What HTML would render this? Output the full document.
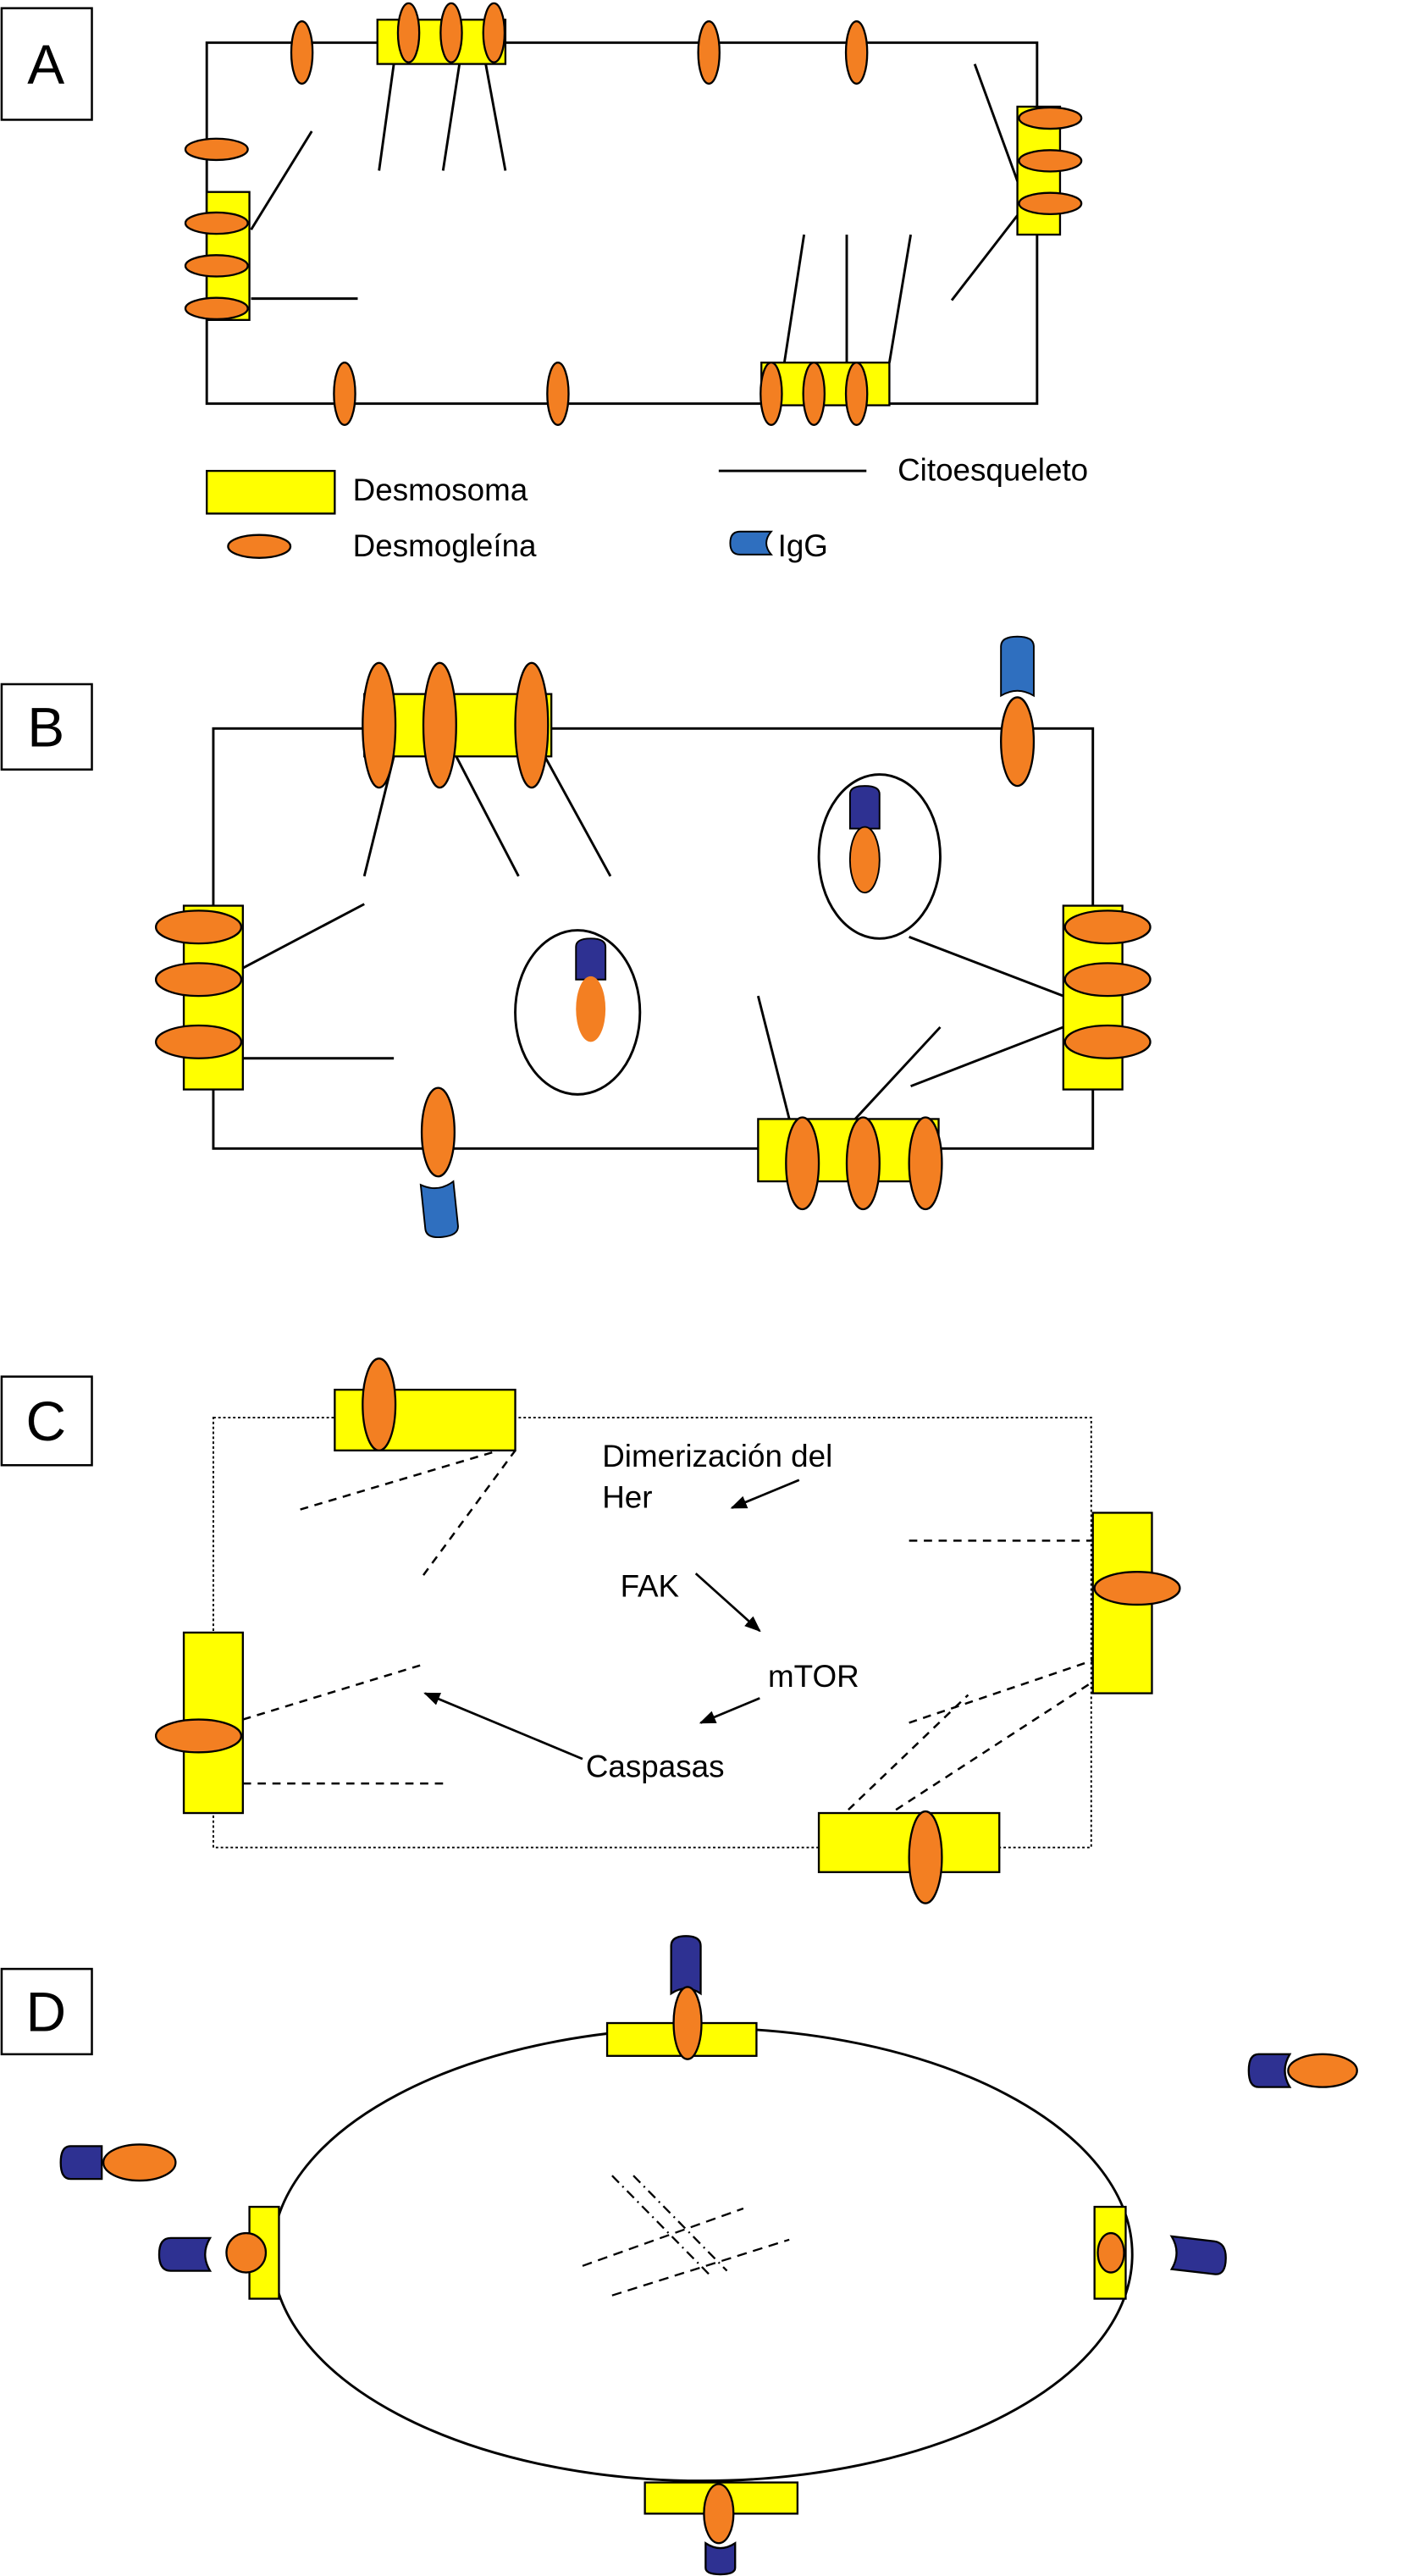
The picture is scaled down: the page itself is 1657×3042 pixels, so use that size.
<!DOCTYPE html>
<html><head><meta charset="utf-8"><style>
html,body{margin:0;padding:0;background:#fff;}
svg{display:block;}
text{font-family:"Liberation Sans",Arial,sans-serif;fill:#000;}
</style></head><body>
<svg width="1657" height="3042" viewBox="0 0 855 1570" preserveAspectRatio="none" xmlns="http://www.w3.org/2000/svg">
<g stroke="#000" stroke-width="1.3" fill="none">
<rect x="1" y="5" width="55" height="68" fill="#fff"/>
<rect x="1" y="417" width="55" height="52" fill="#fff"/>
<rect x="1" y="839" width="55" height="54" fill="#fff"/>
<rect x="1" y="1200" width="55" height="52" fill="#fff"/>
</g>
<g font-size="34" text-anchor="middle">
<text x="28" y="51">A</text><text x="28" y="455">B</text><text x="28" y="878">C</text><text x="28" y="1238">D</text>
</g>

<!-- PANEL A -->
<g stroke="#000" stroke-width="1.5" fill="none">
<rect x="126" y="26" width="506" height="220"/>
<line x1="190" y1="80" x2="153" y2="140"/><line x1="153" y1="182" x2="218" y2="182"/>
<line x1="240" y1="39" x2="231" y2="104"/><line x1="280" y1="39" x2="270" y2="104"/><line x1="296" y1="39" x2="308" y2="104"/>
<line x1="594" y1="39" x2="621" y2="113"/><line x1="621" y1="130" x2="580" y2="183"/>
<line x1="490" y1="143" x2="478" y2="221"/><line x1="516" y1="143" x2="516" y2="221"/><line x1="555" y1="143" x2="542" y2="221"/>
<line x1="438" y1="287" x2="528" y2="287"/>
</g>
<g stroke="#000" stroke-width="1.2" fill="#ffff00">
<rect x="230" y="12" width="78" height="27"/>
<rect x="126" y="117" width="26" height="78"/>
<rect x="620" y="65" width="26" height="78"/>
<rect x="464" y="221" width="78" height="26"/>
<rect x="126" y="287" width="78" height="26"/>
</g>
<g stroke="#000" stroke-width="1.2" fill="#f37f22">
<ellipse cx="249" cy="20" rx="6.5" ry="18"/><ellipse cx="275" cy="20" rx="6.5" ry="18"/><ellipse cx="301" cy="20" rx="6.5" ry="18"/>
<ellipse cx="184" cy="32" rx="6.5" ry="19"/><ellipse cx="432" cy="32" rx="6.5" ry="19"/><ellipse cx="522" cy="32" rx="6.5" ry="19"/>
<ellipse cx="132" cy="91" rx="19" ry="6.5"/>
<ellipse cx="132" cy="136" rx="19" ry="6.5"/><ellipse cx="132" cy="162" rx="19" ry="6.5"/><ellipse cx="132" cy="188" rx="19" ry="6.5"/>
<ellipse cx="640" cy="72" rx="19" ry="6.5"/><ellipse cx="640" cy="98" rx="19" ry="6.5"/><ellipse cx="640" cy="124" rx="19" ry="6.5"/>
<ellipse cx="470" cy="240" rx="6.5" ry="19"/><ellipse cx="496" cy="240" rx="6.5" ry="19"/><ellipse cx="522" cy="240" rx="6.5" ry="19"/>
<ellipse cx="210" cy="240" rx="6.5" ry="19"/><ellipse cx="340" cy="240" rx="6.5" ry="19"/>
<ellipse cx="158" cy="333" rx="19" ry="7"/>
</g>
<path d="M470 324 H451 Q445 324 445 331 Q445 338 451 338 H470 Q464 331 470 324 Z" fill="#2f6fbf" stroke="#000" stroke-width="1"/>
<g font-size="19">
<text x="215" y="305">Desmosoma</text><text x="215" y="339">Desmogleína</text>
<text x="547" y="293">Citoesqueleto</text><text x="474" y="339">IgG</text>
</g>

<!-- PANEL B -->
<g stroke="#000" stroke-width="1.5" fill="none">
<rect x="130" y="444" width="536" height="256"/>
<line x1="240" y1="461" x2="222" y2="534"/><line x1="278" y1="461" x2="316" y2="534"/><line x1="332" y1="461" x2="372" y2="534"/>
<line x1="148" y1="590" x2="222" y2="551"/><line x1="148" y1="645" x2="240" y2="645"/>
<line x1="554" y1="571" x2="648" y2="607"/><line x1="555" y1="662" x2="648" y2="626"/>
<line x1="498" y1="707" x2="573" y2="626"/><line x1="462" y1="607" x2="481" y2="682"/>
<ellipse cx="352" cy="617" rx="38" ry="50" fill="#fff"/>
<ellipse cx="536" cy="522" rx="37" ry="50" fill="#fff"/>
</g>
<g stroke="#000" stroke-width="1.2" fill="#ffff00">
<rect x="222" y="423" width="114" height="38"/>
<rect x="112" y="552" width="36" height="112"/>
<rect x="648" y="552" width="36" height="112"/>
<rect x="462" y="682" width="110" height="38"/>
</g>
<path d="M610 424 V394 Q610 388 620 388 Q630 388 630 394 V424 Q620 418 610 424 Z" fill="#2f6fbf" stroke="#000" stroke-width="1"/>
<path d="M258 721 Q268 727 278 721 V748 Q278 754 268 754 Q258 754 258 748 Z" fill="#2f6fbf" stroke="#000" stroke-width="1" transform="rotate(-6 268 737)"/>
<path d="M351 597 V577 Q351 572 360 572 Q369 572 369 577 V597 Z" fill="#2e3192" stroke="#000" stroke-width="1"/>
<path d="M518 505 V484 Q518 479 527 479 Q536 479 536 484 V505 Z" fill="#2e3192" stroke="#000" stroke-width="1"/>
<g stroke="#000" stroke-width="1.2" fill="#f37f22">
<ellipse cx="231" cy="442" rx="10" ry="38"/><ellipse cx="268" cy="442" rx="10" ry="38"/><ellipse cx="324" cy="442" rx="10" ry="38"/>
<ellipse cx="121" cy="565" rx="26" ry="10"/><ellipse cx="121" cy="597" rx="26" ry="10"/><ellipse cx="121" cy="635" rx="26" ry="10"/>
<ellipse cx="675" cy="565" rx="26" ry="10"/><ellipse cx="675" cy="597" rx="26" ry="10"/><ellipse cx="675" cy="635" rx="26" ry="10"/>
<ellipse cx="489" cy="709" rx="10" ry="28"/><ellipse cx="526" cy="709" rx="10" ry="28"/><ellipse cx="564" cy="709" rx="10" ry="28"/>
<ellipse cx="620" cy="452" rx="10" ry="27"/>
<ellipse cx="267" cy="690" rx="10" ry="27"/>
</g>
<ellipse cx="360" cy="615" rx="9" ry="20" fill="#f37f22"/>
<ellipse cx="527" cy="524" rx="9" ry="20" fill="#f37f22" stroke="#000" stroke-width="1"/>

<!-- PANEL C -->
<rect x="130" y="864" width="535" height="262" fill="none" stroke="#000" stroke-width="1" stroke-dasharray="1.5,1.5"/>
<g stroke="#000" stroke-width="1.3" stroke-dasharray="5,4">
<line x1="183" y1="920" x2="304" y2="884"/><line x1="258" y1="960" x2="314" y2="884"/>
<line x1="148" y1="1048" x2="256" y2="1015"/><line x1="148" y1="1087" x2="272" y2="1087"/>
<line x1="554" y1="939" x2="666" y2="939"/><line x1="554" y1="1050" x2="666" y2="1012"/>
<line x1="517" y1="1103" x2="590" y2="1033"/><line x1="546" y1="1103" x2="666" y2="1025"/>
</g>
<g stroke="#000" stroke-width="1.2" fill="#ffff00">
<rect x="204" y="847" width="110" height="37"/>
<rect x="112" y="995" width="36" height="110"/>
<rect x="666" y="922" width="36" height="110"/>
<rect x="499" y="1105" width="110" height="36"/>
</g>
<g stroke="#000" stroke-width="1.2" fill="#f37f22">
<ellipse cx="231" cy="856" rx="10" ry="28"/>
<ellipse cx="121" cy="1058" rx="26" ry="10"/>
<ellipse cx="693" cy="968" rx="26" ry="10"/>
<ellipse cx="564" cy="1132" rx="10" ry="28"/>
</g>
<g font-size="19">
<text x="367" y="894">Dimerización del</text><text x="367" y="919">Her</text>
<text x="378" y="973">FAK</text><text x="468" y="1028">mTOR</text><text x="357" y="1083">Caspasas</text>
</g>
<defs><marker id="ar" markerWidth="10" markerHeight="10" refX="9" refY="5" orient="auto" markerUnits="userSpaceOnUse"><path d="M0 1 L10 5 L0 9 Z" fill="#000"/></marker></defs>
<g stroke="#000" stroke-width="1.4" marker-end="url(#ar)">
<line x1="487" y1="902" x2="446" y2="919"/>
<line x1="424" y1="959" x2="463" y2="994"/>
<line x1="463" y1="1035" x2="427" y2="1050"/>
<line x1="355" y1="1072" x2="259" y2="1032"/>
</g>

<!-- PANEL D -->
<ellipse cx="428" cy="1374" rx="262" ry="138" fill="none" stroke="#000" stroke-width="1.5"/>
<g stroke="#000" stroke-width="1.2" stroke-dasharray="6,3,1,3">
<line x1="373" y1="1326" x2="432" y2="1386"/><line x1="386" y1="1326" x2="443" y2="1384"/>
</g>
<g stroke="#000" stroke-width="1.2" stroke-dasharray="6,4">
<line x1="355" y1="1381" x2="453" y2="1346"/><line x1="373" y1="1399" x2="481" y2="1365"/>
</g>
<g stroke="#000" stroke-width="1.2" fill="#ffff00">
<rect x="370" y="1233" width="91" height="20"/>
<rect x="393" y="1513" width="93" height="19"/>
<rect x="152" y="1345" width="18" height="56"/>
<rect x="667" y="1345" width="19" height="56"/>
</g>
<g stroke="#000" stroke-width="1.2" fill="#2e3192">
<path d="M409 1215 V1186 Q409 1180 418 1180 Q427 1180 427 1186 V1215 Q418 1209 409 1215 Z"/>
<path d="M430 1550 Q439 1556 448 1550 V1565 Q448 1569 439 1569 Q430 1569 430 1565 Z"/>
<path d="M128 1364 H104 Q97 1364 97 1374 Q97 1384 104 1384 H128 Q122 1374 128 1364 Z"/>
<path d="M714 1363 L740 1366 Q747 1367 747 1376 Q747 1387 740 1386 L714 1383 Q720 1373 714 1363 Z"/>
<path d="M62 1308 H43 Q37 1308 37 1318 Q37 1328 43 1328 H62 Z"/>
<path d="M786 1252 H767 Q761 1252 761 1262 Q761 1272 767 1272 H786 Q780 1262 786 1252 Z"/>
</g>
<g stroke="#000" stroke-width="1.2" fill="#f37f22">
<ellipse cx="419" cy="1233" rx="8.5" ry="22"/>
<ellipse cx="438" cy="1532" rx="9" ry="18"/>
<ellipse cx="150" cy="1373" rx="12" ry="12"/>
<ellipse cx="677" cy="1373" rx="8" ry="12"/>
<ellipse cx="85" cy="1318" rx="22" ry="11"/>
<ellipse cx="806" cy="1262" rx="21" ry="10"/>
</g>
</svg>
</body></html>
